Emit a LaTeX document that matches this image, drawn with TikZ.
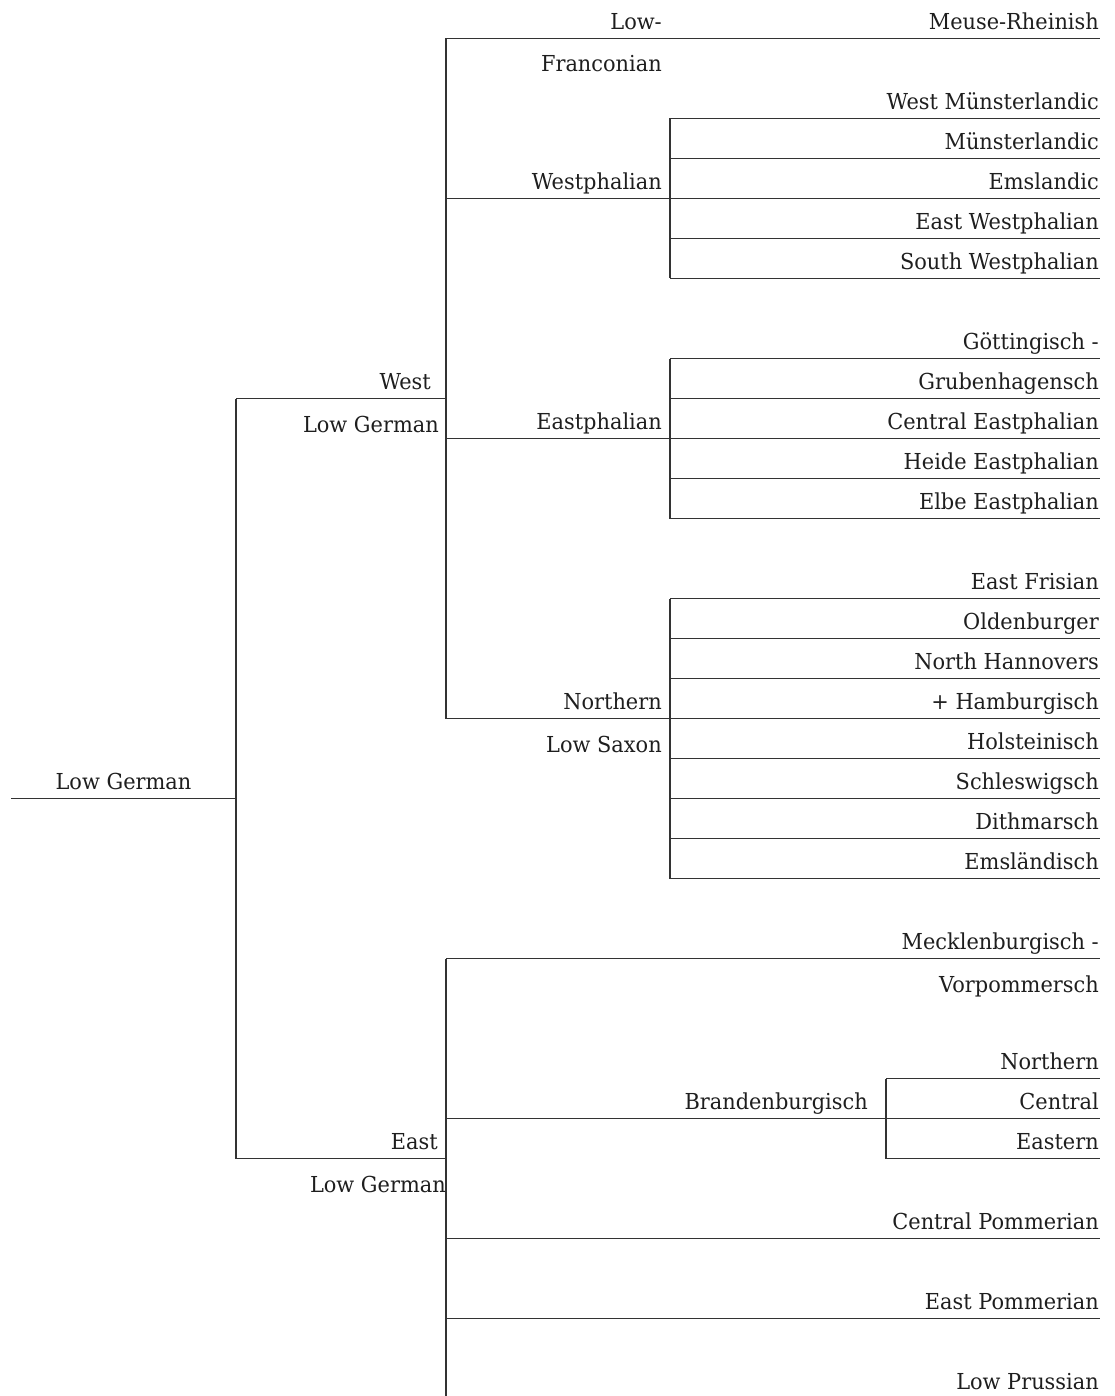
\documentclass[tikz,border=0pt]{standalone}
\usepackage{fontspec}
\setmainfont[FakeStretch=0.95]{DejaVu Serif}
\definecolor{txtc}{HTML}{1E1E1E}
\definecolor{linec}{HTML}{333333}
\newcommand\labelfont{\fontsize{22}{26}\selectfont}
\tikzset{
  lbl/.style={anchor=base east, inner sep=0pt, text=txtc, font=\labelfont},
  conn/.style={draw=linec, line width=1.4pt},
}
\begin{document}
\begin{tikzpicture}[x=1pt,y=-1pt]
\useasboundingbox (0,0) rectangle (1114,1396);
% root
\coordinate (root-s) at (11,798.5);
\coordinate (root-e) at (236,798.5);
\draw[conn] (root-s) -- (root-e);
\node[lbl, anchor=base] (root) at (123.5,789.5) {Low German};
% West / East Low German
\coordinate (wlg-s) at (236,398.5);
\coordinate (wlg-e) at (446,398.5);
\coordinate (elg-s) at (236,1158.5);
\coordinate (elg-e) at (446,1158.5);
\draw[conn] (wlg-s) -- (elg-s);
\draw[conn] (wlg-s) -- (wlg-e);
\draw[conn] (elg-s) -- (elg-e);
\node[lbl] (wlg1) at (431,389.5) {West};
\node[lbl] (wlg2) at (439,432) {Low German};
\node[lbl] (elg1) at (438,1149.5) {East};
\node[lbl] (elg2) at (446,1192) {Low German};
% West Low German children
\coordinate (lf-s) at (446,38.5);
\coordinate (lf-e) at (1100,38.5);
\coordinate (wp-s) at (446,198.5);
\coordinate (wp-e) at (670,198.5);
\coordinate (ep-s) at (446,438.5);
\coordinate (ep-e) at (670,438.5);
\coordinate (nls-s) at (446,718.5);
\coordinate (nls-e) at (670,718.5);
\draw[conn] (lf-s) -- (nls-s);
\draw[conn] (lf-s) -- (lf-e);
\draw[conn] (wp-s) -- (wp-e);
\draw[conn] (ep-s) -- (ep-e);
\draw[conn] (nls-s) -- (nls-e);
\node[lbl] (lf1) at (662,29.5) {Low-};
\node[lbl] (lf2) at (662,72) {Franconian};
\node[lbl] (mr) at (1099,29.5) {Meuse-Rheinish};
\node[lbl] (wp) at (662,189.5) {Westphalian};
\node[lbl] (ep) at (662,429.5) {Eastphalian};
\node[lbl] (nls1) at (662,709.5) {Northern};
\node[lbl] (nls2) at (662,752) {Low Saxon};
% Westphalian leaves
\draw[conn] (670,118.5) coordinate (wml-s) -- (670,278.5) coordinate (swp-s);
\foreach \n/\y/\t in {wml/118.5/West Münsterlandic, ml/158.5/Münsterlandic, eml/198.5/Emslandic, ewp/238.5/East Westphalian, swp/278.5/South Westphalian}{
  \coordinate (\n-s) at (670,\y);
  \coordinate (\n-e) at (1100,\y);
  \draw[conn] (\n-s) -- (\n-e);
  \node[lbl] (\n) at ([xshift=-1pt,yshift=9pt]\n-e) {\t};
}
% Eastphalian leaves
\draw[conn] (670,358.5) coordinate (gg1-s) -- (670,518.5) coordinate (eep-s);
\foreach \n/\y/\t in {gg1/358.5/Göttingisch -, gg2/398.5/Grubenhagensch, cep/438.5/Central Eastphalian, hep/478.5/Heide Eastphalian, eep/518.5/Elbe Eastphalian}{
  \coordinate (\n-s) at (670,\y);
  \coordinate (\n-e) at (1100,\y);
  \draw[conn] (\n-s) -- (\n-e);
  \node[lbl] (\n) at ([xshift=-1pt,yshift=9pt]\n-e) {\t};
}
% Northern Low Saxon leaves
\draw[conn] (670,598.5) coordinate (efr-s) -- (670,878.5) coordinate (ems-s);
\foreach \n/\y/\t in {efr/598.5/East Frisian, old/638.5/Oldenburger, nh/678.5/North Hannovers, ham/718.5/+ Hamburgisch, hol/758.5/Holsteinisch, sch/798.5/Schleswigsch, dit/838.5/Dithmarsch, ems/878.5/Emsländisch}{
  \coordinate (\n-s) at (670,\y);
  \coordinate (\n-e) at (1100,\y);
  \draw[conn] (\n-s) -- (\n-e);
  \node[lbl] (\n) at ([xshift=-1pt,yshift=9pt]\n-e) {\t};
}
% East Low German children
\coordinate (mv-s) at (446,958.5);
\coordinate (mv-e) at (1100,958.5);
\coordinate (bb-s) at (446,1118.5);
\coordinate (bb-e) at (886,1118.5);
\coordinate (lp-s) at (446,1398.5);
\draw[conn] (mv-s) -- (lp-s);
\draw[conn] (mv-s) -- (mv-e);
\draw[conn] (bb-s) -- (bb-e);
\node[lbl] (mv1) at (1099,949.5) {Mecklenburgisch -};
\node[lbl] (mv2) at (1099,992) {Vorpommersch};
\node[lbl] (bb) at (868,1109.5) {Brandenburgisch};
\foreach \n/\y/\t in {cpm/1238.5/Central Pommerian, epm/1318.5/East Pommerian, lp/1398.5/Low Prussian}{
  \coordinate (\n-s) at (446,\y);
  \coordinate (\n-e) at (1100,\y);
  \draw[conn] (\n-s) -- (\n-e);
  \node[lbl] (\n) at ([xshift=-1pt,yshift=9pt]\n-e) {\t};
}
% Brandenburgisch leaves
\draw[conn] (886,1078.5) coordinate (bn-s) -- (886,1158.5) coordinate (be-s);
\foreach \n/\y/\t in {bn/1078.5/Northern, bc/1118.5/Central, be/1158.5/Eastern}{
  \coordinate (\n-s) at (886,\y);
  \coordinate (\n-e) at (1100,\y);
  \draw[conn] (\n-s) -- (\n-e);
  \node[lbl] (\n) at ([xshift=-1pt,yshift=9pt]\n-e) {\t};
}
\end{tikzpicture}
\end{document}
